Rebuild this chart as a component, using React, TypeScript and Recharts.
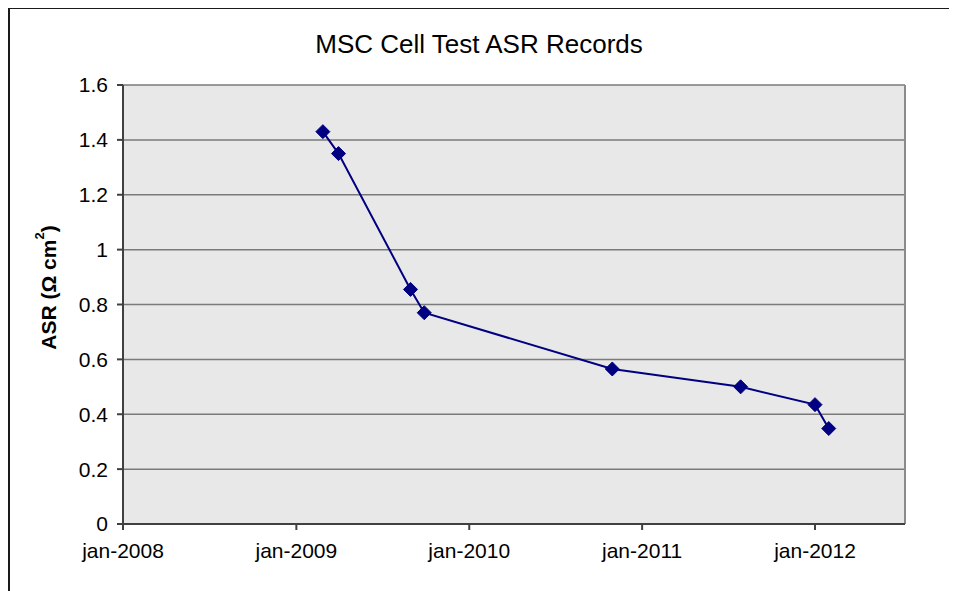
import { LineChart, Line, XAxis, YAxis, CartesianGrid, ReferenceLine, Label } from 'recharts';

// test dates (UTC) and ASR values
const testDates = [
  Date.UTC(2009, 1, 26),
  Date.UTC(2009, 2, 31),
  Date.UTC(2009, 7, 30),
  Date.UTC(2009, 8, 28),
  Date.UTC(2010, 9, 30),
  Date.UTC(2011, 6, 28),
  Date.UTC(2012, 0, 1),
  Date.UTC(2012, 0, 30),
];
const asrValues = [1.43, 1.35, 0.855, 0.77, 0.565, 0.5, 0.435, 0.348];

const xTicks = [Date.UTC(2008, 0, 1), Date.UTC(2009, 0, 1), Date.UTC(2010, 0, 1), Date.UTC(2011, 0, 1), Date.UTC(2012, 0, 1)];
const xMin = Date.UTC(2008, 0, 1);
const xMax = Date.UTC(2012, 6, 9);
const yTicks = [0, 0.2, 0.4, 0.6, 0.8, 1, 1.2, 1.4, 1.6];

const data = testDates.map((t, i) => ({ date: t, asr: asrValues[i] }));

const FONT = '"Liberation Sans", Arial, sans-serif';

function monthLabel(ts: number) {
  const d = new Date(ts);
  const m = ['jan', 'feb', 'mar', 'apr', 'maj', 'jun', 'jul', 'aug', 'sep', 'okt', 'nov', 'dec'][d.getUTCMonth()];
  return m + '-' + d.getUTCFullYear();
}

function Diamond(props: any) {
  const { cx, cy } = props;
  if (cx == null || cy == null) return null;
  const r = 7;
  return (
    <polygon
      points={`${cx},${cy - r} ${cx + r},${cy} ${cx},${cy + r} ${cx - r},${cy}`}
      fill="#000080"
      stroke="#000080"
      strokeWidth={1}
    />
  );
}

function YLabel(props: any) {
  const { viewBox } = props;
  const x = 48 - 10;
  const y = viewBox.y + viewBox.height / 2 - 17;
  return (
    <text
      x={x}
      y={y}
      transform={`rotate(-90, ${x}, ${y})`}
      textAnchor="middle"
      dominantBaseline="central"
      fontFamily={FONT}
      fontSize={21}
      fontWeight="bold"
      fill="#000"
    >
      ASR (Ω cm<tspan dy={-9} fontSize={13}>2</tspan><tspan dy={9}>)</tspan>
    </text>
  );
}

export default function App() {
  return (
    <div
      style={{
        position: 'relative',
        width: 949,
        height: 584,
        marginTop: -1,
        borderTop: '2px solid #1a1a1a',
        borderLeft: '2px solid #1a1a1a',
        background: '#fff',
        overflow: 'hidden',
      }}
    >
      <div
        style={{
          position: 'absolute',
          left: 0,
          top: 20,
          width: 938,
          textAlign: 'center',
          fontFamily: FONT,
          fontSize: 26,
          color: '#000',
        }}
      >
        MSC Cell Test ASR Records
      </div>
      <LineChart
        width={940}
        height={580}
        data={data}
        margin={{ top: 76, right: 45, left: 53, bottom: 31 }}
        style={{ position: 'absolute', left: 0, top: 0 }}
      >
        <CartesianGrid horizontal vertical={false} fill="#e8e8e8" stroke="#7a7a7a" strokeWidth={1.5} />
        <ReferenceLine x={xMax} stroke="#8a8a8a" strokeWidth={2} />
        <XAxis
          dataKey="date"
          type="number"
          scale="time"
          domain={[xMin, xMax]}
          ticks={xTicks}
          tickFormatter={monthLabel}
          height={34}
          tickSize={6}
          tickMargin={13}
          stroke="#404040"
          strokeWidth={2}
          tick={{ fill: '#000', fontSize: 21, fontFamily: FONT }}
          allowDataOverflow
        />
        <YAxis
          type="number"
          domain={[0, 1.6]}
          ticks={yTicks}
          width={60}
          tickSize={6}
          tickMargin={9}
          stroke="#404040"
          strokeWidth={2}
          tick={{ fill: '#000', fontSize: 21, fontFamily: FONT }}
        >
          <Label content={YLabel} />
        </YAxis>
        <Line
          type="linear"
          dataKey="asr"
          stroke="#000080"
          strokeWidth={2}
          dot={<Diamond />}
          isAnimationActive={false}
        />
      </LineChart>
    </div>
  );
}
